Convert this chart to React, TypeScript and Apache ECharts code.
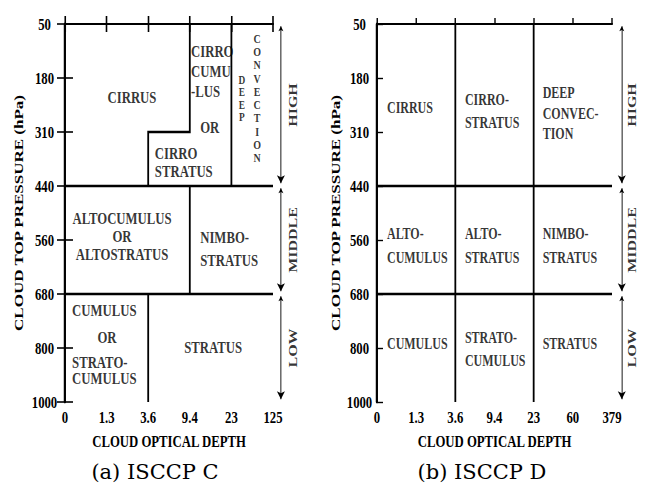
import React, { useEffect, useRef } from "react";
import * as echarts from "echarts";

// ---------- data ----------
const opticalDepthTicksC = ["0", "1.3", "3.6", "9.4", "23", "125"];
const opticalDepthTicksD = ["0", "1.3", "3.6", "9.4", "23", "60", "379"];
const pressureTicks = ["50", "180", "310", "440", "560", "680", "800", "1000"];

const cloudLevels = ["HIGH", "MIDDLE", "LOW"];
const levelBins = [
  [0, 3],
  [3, 5],
  [5, 7],
];

// cell boundaries in bin-index space [opticalDepthBin, pressureBin]
const boundariesC = [
  [[0, 3], [5, 3]],
  [[0, 5], [5, 5]],
  [[3, 0], [3, 2], [2, 2], [2, 3]],
  [[4, 0], [4, 3]],
  [[3, 3], [3, 5]],
  [[2, 5], [2, 7]],
];
const boundariesD = [
  [[0, 3], [6, 3]],
  [[0, 5], [6, 5]],
  [[2, 0], [2, 7]],
  [[4, 0], [4, 7]],
];

// cloud type names with their anchor in bin-index space
const cellLabelsC = [
  { name: "CIRRUS", at: [1.61, 1.35], align: "center", lh: 18 },
  { name: "CIRRO\nCUMU\n-LUS", at: [3.03, 0.88], align: "left", lh: 20 },
  { name: "OR", at: [3.48, 1.91], align: "center", lh: 18 },
  { name: "CIRRO\nSTRATUS", at: [2.16, 2.57], align: "left", lh: 18 },
  { name: "D\nE\nE\nP", at: [4.25, 1.37], align: "center", lh: 12.5, fs: 12.5 },
  { name: "C\nO\nN\nV\nE\nC\nT\nI\nO\nN", at: [4.62, 1.38], align: "center", lh: 13.3, fs: 13.3 },
  { name: "ALTOCUMULUS\nOR\nALTOSTRATUS", at: [1.37, 3.93], align: "center", lh: 18 },
  { name: "NIMBO-\nSTRATUS", at: [3.25, 4.17], align: "left", lh: 23 },
  { name: "CUMULUS", at: [0.17, 5.31], align: "left", lh: 18 },
  { name: "OR", at: [1.01, 5.81], align: "center", lh: 18 },
  { name: "STRATO-\nCUMULUS", at: [0.17, 6.41], align: "left", lh: 16.5 },
  { name: "STRATUS", at: [3.56, 5.98], align: "center", lh: 18 },
];
const cellLabelsD = [
  { name: "CIRRUS", at: [0.255, 1.54], align: "left", lh: 18 },
  { name: "CIRRO-\nSTRATUS", at: [2.245, 1.6], align: "left", lh: 23 },
  { name: "DEEP\nCONVEC-\nTION", at: [4.23, 1.65], align: "left", lh: 20.5 },
  { name: "ALTO-\nCUMULUS", at: [0.255, 4.09], align: "left", lh: 24 },
  { name: "ALTO-\nSTRATUS", at: [2.245, 4.09], align: "left", lh: 24 },
  { name: "NIMBO-\nSTRATUS", at: [4.23, 4.09], align: "left", lh: 24 },
  { name: "CUMULUS", at: [0.255, 5.91], align: "left", lh: 18 },
  { name: "STRATO-\nCUMULUS", at: [2.245, 6.01], align: "left", lh: 23 },
  { name: "STRATUS", at: [4.23, 5.91], align: "left", lh: 18 },
];

const captions = ["(a) ISCCP C", "(b) ISCCP D"];
const xTitle = "CLOUD OPTICAL DEPTH";
const yTitle = "CLOUD TOP PRESSURE (hPa)";

// ---------- layout ----------
const S = 0.75; // horizontal compression of the figure
const CW = 862;
const CH = 485;
const px = (sx: number) => sx / S;
const FONT = "Liberation Serif";
const BLACK = "#000";

const txt = (size: number) => ({
  fontFamily: FONT,
  fontWeight: "bold" as const,
  fontSize: size,
  color: BLACK,
});

function buildOption() {
  const gridC = { left: px(65), top: 24, width: px(273) - px(65), height: 378 };
  const gridD = { left: px(377), top: 24, width: px(612) - px(377), height: 378 };

  const hLine = { lineStyle: { color: BLACK, width: 2 } };
  const vLine = { lineStyle: { color: BLACK, width: 2 / S } };

  const xAxis: any[] = [
    {
      gridIndex: 0, type: "value", position: "bottom",
      min: 0, max: opticalDepthTicksC.length - 1, interval: 1,
      axisLine: { show: true, ...hLine },
      axisTick: { show: true, inside: true, length: 8, lineStyle: { color: BLACK, width: 1.6 / S } },
      axisLabel: { ...txt(17), margin: 7, formatter: (v: number) => opticalDepthTicksC[v] ?? "" },
      splitLine: { show: false },
      name: xTitle, nameLocation: "middle", nameGap: 31, nameTextStyle: txt(17),
    },
    {
      gridIndex: 0, type: "value", position: "top",
      min: 0, max: opticalDepthTicksC.length - 1, interval: 1,
      axisLine: { show: true, ...hLine },
      axisTick: { show: true, inside: true, length: 8, lineStyle: { color: BLACK, width: 1.6 / S } },
      axisLabel: { show: false }, splitLine: { show: false },
    },
    {
      gridIndex: 1, type: "value", position: "bottom",
      min: 0, max: opticalDepthTicksD.length - 1, interval: 1,
      axisLine: { show: true, ...hLine },
      axisTick: { show: true, inside: true, length: 6, lineStyle: { color: BLACK, width: 1.4 / S } },
      axisLabel: { ...txt(17), margin: 7, formatter: (v: number) => opticalDepthTicksD[v] ?? "" },
      splitLine: { show: false },
      name: xTitle, nameLocation: "middle", nameGap: 31, nameTextStyle: txt(17),
    },
    {
      gridIndex: 1, type: "value", position: "top",
      min: 0, max: opticalDepthTicksD.length - 1, interval: 1,
      axisLine: { show: true, ...hLine },
      axisTick: { show: false }, axisLabel: { show: false }, splitLine: { show: false },
    },
  ];

  const yAxis: any[] = [
    {
      gridIndex: 0, type: "value", position: "left", inverse: true,
      min: 0, max: pressureTicks.length - 1, interval: 1,
      axisLine: { show: true, ...vLine },
      axisTick: { show: true, inside: true, length: px(8), lineStyle: { color: BLACK, width: 1.6 } },
      axisLabel: { ...txt(17), align: "center", margin: px(20.5), padding: [0, 0, 8, 0], formatter: (v: number) => pressureTicks[v] ?? "" },
      splitLine: { show: false },
      name: yTitle, nameLocation: "middle", nameRotate: 90, nameGap: px(40), nameTextStyle: txt(17),
    },
    {
      gridIndex: 0, type: "value", position: "right", inverse: true,
      min: 0, max: pressureTicks.length - 1, interval: 1,
      axisLine: { show: true, ...vLine },
      axisTick: { show: true, inside: true, length: px(8), lineStyle: { color: BLACK, width: 1.6 } },
      axisLabel: { show: false }, splitLine: { show: false },
    },
    {
      gridIndex: 1, type: "value", position: "left", inverse: true,
      min: 0, max: pressureTicks.length - 1, interval: 1,
      axisLine: { show: true, ...vLine },
      axisTick: { show: true, inside: true, length: px(6), lineStyle: { color: BLACK, width: 1.4 } },
      axisLabel: { ...txt(17), align: "center", margin: px(17.5), padding: [0, 0, 4, 0], formatter: (v: number) => pressureTicks[v] ?? "" },
      splitLine: { show: false },
      name: yTitle, nameLocation: "middle", nameRotate: 90, nameGap: px(35), nameTextStyle: txt(17),
    },
    {
      gridIndex: 1, type: "value", position: "right", inverse: true,
      min: 0, max: pressureTicks.length - 1, interval: 1,
      axisLine: { show: true, ...vLine },
      axisTick: { show: false }, axisLabel: { show: false }, splitLine: { show: false },
    },
  ];

  const boundarySeries = (data: number[][][], idx: number) => ({
    type: "lines",
    coordinateSystem: "cartesian2d",
    xAxisIndex: idx, yAxisIndex: idx,
    polyline: true,
    silent: true,
    symbol: "none",
    lineStyle: { color: BLACK, width: 2.4, opacity: 1 },
    data: data.map((c) => ({ coords: c })),
  });

  const labelSeries = (cells: any[], idx: number, size: number) => ({
    type: "scatter",
    xAxisIndex: idx, yAxisIndex: idx,
    symbolSize: 1,
    itemStyle: { color: "rgba(0,0,0,0)" },
    silent: true,
    clip: false,
    label: { show: true, position: "inside", formatter: "{b}", ...txt(size) },
    data: cells.map((c) => ({
      name: c.name,
      value: c.at,
      label: { align: c.align, verticalAlign: "middle", lineHeight: c.lh, fontSize: c.fs ?? size },
    })),
  });

  const arrowSeries = (x: number, idx: number) => ({
    type: "lines",
    coordinateSystem: "cartesian2d",
    xAxisIndex: idx, yAxisIndex: idx,
    silent: true,
    clip: false,
    symbol: ["arrow", "arrow"],
    symbolSize: [5, 8],
    lineStyle: { color: BLACK, width: 1.2, opacity: 1 },
    itemStyle: { color: BLACK },
    data: levelBins.map(([a, b]) => ({ coords: [[x, a + 0.04], [x, b - 0.05]] })),
  });

  const levelLabelSeries = (x: number, idx: number) => ({
    type: "scatter",
    xAxisIndex: idx, yAxisIndex: idx,
    symbolSize: 1,
    itemStyle: { color: "rgba(0,0,0,0)" },
    silent: true,
    clip: false,
    label: { show: true, position: "inside", formatter: "{b}", rotate: 90, ...txt(16) },
    data: cloudLevels.map((n, i) => ({ name: n, value: [x, (levelBins[i][0] + levelBins[i][1]) / 2] })),
  });

  return {
    animation: false,
    backgroundColor: "#fff",
    grid: [
      { ...gridC, outerBoundsMode: "none", containLabel: false },
      { ...gridD, outerBoundsMode: "none", containLabel: false },
    ],
    xAxis,
    yAxis,
    series: [
      boundarySeries(boundariesC, 0),
      boundarySeries(boundariesD, 2),
      labelSeries(cellLabelsC, 0, 17),
      labelSeries(cellLabelsD, 2, 16),
      arrowSeries(5.19, 0),
      arrowSeries(6.25, 2),
      levelLabelSeries(5.48, 0),
      levelLabelSeries(6.5, 2),
    ],
    graphic: [
      {
        type: "text", x: px(155), y: 472, scaleX: 1 / S, silent: true,
        style: { text: captions[0], fontFamily: "DejaVu Serif", fontSize: 21, fill: BLACK, align: "center", verticalAlign: "middle" },
      },
      {
        type: "text", x: px(482), y: 472, scaleX: 1 / S, silent: true,
        style: { text: captions[1], fontFamily: "DejaVu Serif", fontSize: 21, fill: BLACK, align: "center", verticalAlign: "middle" },
      },
    ],
  };
}

export default function App() {
  const ref = useRef<HTMLDivElement>(null);
  useEffect(() => {
    if (!ref.current) return;
    const chart = echarts.init(ref.current, null, { renderer: "svg", width: CW, height: CH });
    chart.setOption(buildOption() as any);
    return () => chart.dispose();
  }, []);
  return (
    <div style={{ position: "absolute", left: 0, top: 0, width: 646, height: 485, overflow: "hidden", background: "#fff" }}>
      <div
        ref={ref}
        style={{ width: CW, height: CH, transform: `scaleX(${S})`, transformOrigin: "0 0" }}
      />
    </div>
  );
}
